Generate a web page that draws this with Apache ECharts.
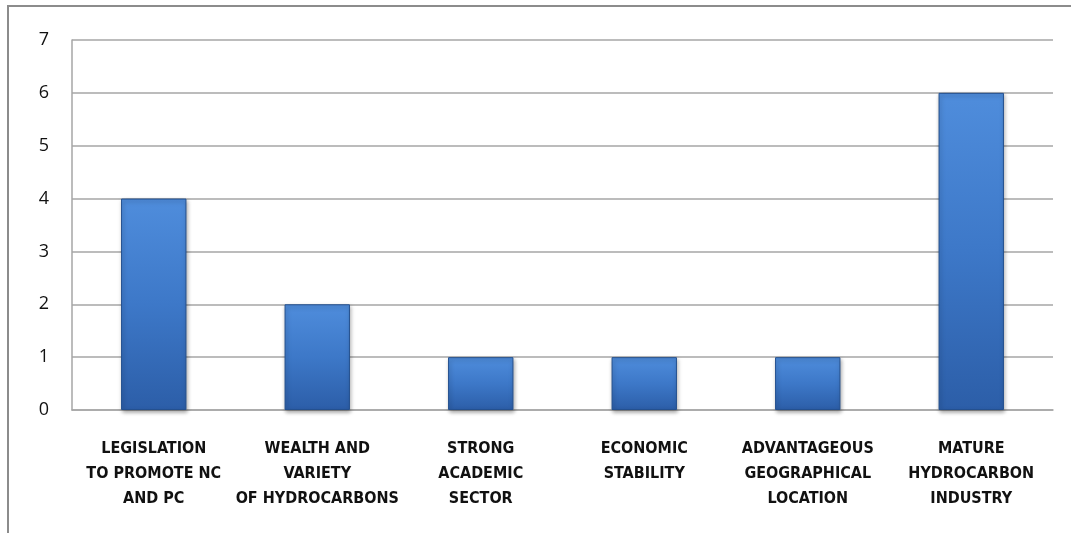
<!DOCTYPE html>
<html>
<head>
<meta charset="utf-8">
<script src="https://cdn.jsdelivr.net/npm/echarts@6/dist/echarts.min.js"></script>
<style>
  html, body { margin: 0; padding: 0; background: #fff; }
  #chart { width: 1071px; height: 533px; }
</style>
</head>
<body>
<div id="chart"></div>
<script>
// categories along the x axis
const categories = [
  "LEGISLATION\nTO PROMOTE NC\nAND PC",
  "WEALTH AND\nVARIETY\nOF HYDROCARBONS",
  "STRONG\nACADEMIC\nSECTOR",
  "ECONOMIC\nSTABILITY",
  "ADVANTAGEOUS\nGEOGRAPHICAL\nLOCATION",
  "MATURE\nHYDROCARBON\nINDUSTRY"
];
const values = [4, 2, 1, 1, 1, 6];
const yTicks = { min: 0, max: 7, interval: 1 };

const myChart = echarts.init(document.getElementById("chart"));

const barColor = new echarts.graphic.LinearGradient(0, 0, 0, 1, [
  { offset: 0, color: "#4f8ddc" },
  { offset: 0.5, color: "#3d78c8" },
  { offset: 1, color: "#2c5ea8" }
]);

const option = {
  animation: false,
  graphic: [
    {
      type: "rect",
      shape: { x: 8, y: 6, width: 1200, height: 700 },
      style: { fill: "none", stroke: "#8c8c8c", lineWidth: 2 },
      silent: true
    }
  ],
  grid: {
    left: 72,
    right: 18,
    top: 40,
    bottom: 123,
    containLabel: false
  },
  xAxis: {
    type: "category",
    data: categories,
    axisLine: { show: true, lineStyle: { color: "#a6a6a6", width: 1.5 } },
    axisTick: { show: false },
    axisLabel: {
      interval: 0,
      margin: 26,
      color: "#111",
      fontFamily: "'DejaVu Sans Condensed', 'Liberation Sans Narrow', sans-serif",
      fontWeight: "bold",
      fontSize: 16,
      lineHeight: 25
    }
  },
  yAxis: {
    type: "value",
    min: yTicks.min,
    max: yTicks.max,
    interval: yTicks.interval,
    axisLine: { show: true, lineStyle: { color: "#a6a6a6", width: 1.5 } },
    axisTick: { show: false },
    splitLine: { show: true, lineStyle: { color: "#a6a6a6", width: 1.5 } },
    axisLabel: {
      margin: 23,
      color: "#111",
      fontFamily: "Open Sans",
      fontSize: 18
    }
  },
  series: [
    {
      type: "bar",
      data: values,
      barWidth: "40%",
      itemStyle: {
        color: barColor,
        borderColor: "#24508f",
        borderWidth: 1,
        shadowColor: "rgba(0,0,0,0.35)",
        shadowBlur: 4,
        shadowOffsetX: 1,
        shadowOffsetY: 2
      }
    }
  ]
};

myChart.setOption(option);
</script>
</body>
</html>
